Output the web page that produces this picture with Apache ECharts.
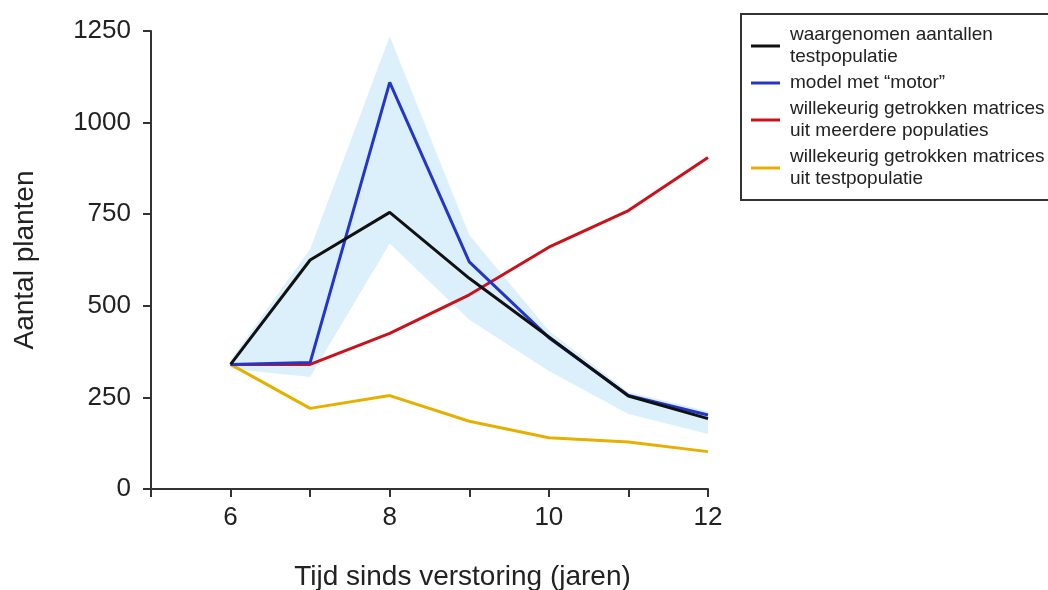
<!DOCTYPE html>
<html>
<head>
<meta charset="utf-8">
<script src="https://cdn.jsdelivr.net/npm/echarts@6/dist/echarts.min.js"></script>
<style>
  html, body { margin: 0; padding: 0; background: #fff; }
  #chart { width: 1048px; height: 590px; }
</style>
</head>
<body>
<div id="chart"></div>
<script>
// jaren sinds verstoring
const years = [6, 7, 8, 9, 10, 11, 12]
const observed = [340, 625, 755, 575, 415, 254, 192]
const motorModel = [340, 345, 1110, 620, 413, 255, 202]
const randomMulti = [340, 340, 425, 530, 660, 760, 905]
const randomTest = [340, 220, 255, 185, 140, 128, 102]
// onzekerheidsband rond het model met "motor"
const bandLower = [328, 306, 670, 462, 322, 205, 150]
const bandUpper = [352, 655, 1236, 693, 432, 265, 212]

const seriesNames = [
  'waargenomen aantallen\ntestpopulatie',
  'model met “motor”',
  'willekeurig getrokken matrices\nuit meerdere populaties',
  'willekeurig getrokken matrices\nuit testpopulatie'
]
const seriesColors = ['#111111', '#2436c8', '#c8121c', '#e6b000']

const pairs = arr => arr.map((v, i) => [years[i], v])

const chart = echarts.init(document.getElementById('chart'))

const lineSeries = [observed, motorModel, randomMulti, randomTest].map((arr, i) => ({
  name: seriesNames[i],
  type: 'line',
  data: pairs(arr),
  symbol: 'none',
  z: 10 - i,
  lineStyle: { color: seriesColors[i], width: 3 },
  itemStyle: { color: seriesColors[i] }
}))

// band as one polygon: upper edge forward, lower edge back
const bandData = years.map((x, i) => [x, bandLower[i], bandUpper[i]])

const option = {
  backgroundColor: '#fff',
  animation: false,
  textStyle: { fontFamily: 'Liberation Sans, Arial, sans-serif' },
  grid: { left: 151, right: 340, top: 31, bottom: 101, outerBoundsMode: 'none', containLabel: false },
  legend: {
    data: seriesNames,
    orient: 'vertical',
    left: 741,
    top: 14,
    padding: [10, 12, 10, 10],
    borderColor: '#333',
    borderWidth: 2,
    itemGap: 4,
    itemWidth: 29,
    itemHeight: 3,
    icon: 'rect',
    textStyle: { fontSize: 19, lineHeight: 22, color: '#222', padding: [0, 0, 0, 5] }
  },
  xAxis: {
    type: 'value',
    min: 5,
    max: 12,
    interval: 1,
    name: 'Tijd sinds verstoring (jaren)',
    nameLocation: 'middle',
    nameGap: 74,
    nameTextStyle: { fontSize: 28, color: '#222', padding: [0, 0, 0, 66] },
    splitLine: { show: false },
    axisLine: { show: true, lineStyle: { color: '#333', width: 2 } },
    axisTick: { show: true, length: 8, lineStyle: { color: '#333', width: 2 } },
    axisLabel: {
      fontSize: 26,
      color: '#222',
      margin: 16,
      formatter: v => (v >= 6 && v % 2 === 0 ? String(v) : '')
    }
  },
  yAxis: {
    type: 'value',
    min: 0,
    max: 1250,
    interval: 250,
    name: 'Aantal planten',
    nameLocation: 'middle',
    nameGap: 112,
    nameTextStyle: { fontSize: 28, color: '#222' },
    splitLine: { show: false },
    axisLine: { show: true, lineStyle: { color: '#333', width: 2 } },
    axisTick: { show: true, length: 8, lineStyle: { color: '#333', width: 2 } },
    axisLabel: { fontSize: 26, color: '#222', margin: 20, formatter: v => String(v) }
  },
  series: [
    {
      name: 'band',
      type: 'custom',
      silent: true,
      z: 1,
      data: bandData,
      encode: { x: 0, y: [1, 2] },
      renderItem: (params, api) => {
        if (params.dataIndex !== 0) return null
        const upper = []
        const lower = []
        for (let i = 0; i < bandData.length; i++) {
          upper.push(api.coord([bandData[i][0], bandData[i][2]]))
          lower.push(api.coord([bandData[i][0], bandData[i][1]]))
        }
        return {
          type: 'polygon',
          shape: { points: upper.concat(lower.reverse()) },
          style: { fill: '#dcf0fb' }
        }
      }
    }
  ].concat(lineSeries)
}

chart.setOption(option)
window.addEventListener('resize', () => {
  chart && chart.resize()
})
</script>
</body>
</html>
